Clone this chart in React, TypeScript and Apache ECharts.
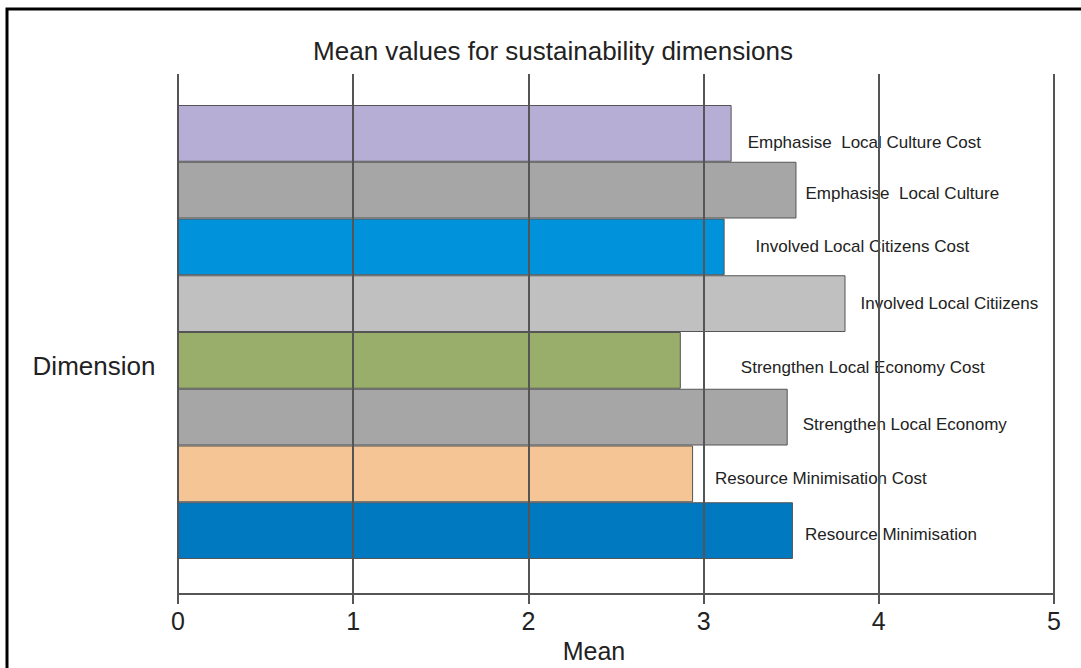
import React, { useEffect, useRef } from "react";
import * as echarts from "echarts";

const categories = [
  "Emphasise  Local Culture Cost",
  "Emphasise  Local Culture",
  "Involved Local Citizens Cost",
  "Involved Local Citiizens",
  "Strengthen Local Economy Cost",
  "Strengthen Local Economy",
  "Resource Minimisation Cost",
  "Resource Minimisation",
];
const means = [3.16, 3.53, 3.12, 3.81, 2.87, 3.48, 2.94, 3.51];
const xTicks = [0, 1, 2, 3, 4, 5];

// layout / style (not data)
const barColors = ["#B7AED5", "#A6A6A6", "#0093DB", "#C0C0C0", "#99AE6B", "#A6A6A6", "#F5C595", "#0079C1"];
const labelDistance = [16, 9, 31, 15, 60, 15, 22, 12];
const labelDy = [9, 3, 0, 0, 7, 7, 5, 4];

const FONT = "'Liberation Sans', Arial, Helvetica, sans-serif";

export default function App() {
  const ref = useRef<HTMLDivElement>(null);
  useEffect(() => {
    if (!ref.current) return;
    const chart = echarts.init(ref.current, undefined, { renderer: "svg" });
    const lineColor = "#555555";
    chart.setOption({
      animation: false,
      backgroundColor: "#ffffff",
      textStyle: { fontFamily: FONT },
      title: {
        text: "Mean values for sustainability dimensions",
        left: 548,
        top: 33,
        textAlign: "center",
        textStyle: { fontFamily: FONT, fontSize: 26, fontWeight: "normal", color: "#222" },
      },
      grid: [
        { left: 178, right: 27, top: 74, bottom: 72 },
        { left: 178, right: 27, top: 105, bottom: 109 },
      ],
      xAxis: [
        {
          gridIndex: 0,
          type: "value",
          min: xTicks[0],
          max: xTicks[xTicks.length - 1],
          interval: 1,
          z: 5,
          axisLine: { show: true, lineStyle: { color: lineColor, width: 2 } },
          axisTick: { show: true, length: 10, lineStyle: { color: lineColor, width: 2 } },
          splitLine: { show: true, lineStyle: { color: lineColor, width: 2 } },
          axisLabel: { fontFamily: FONT, fontSize: 25, color: "#222", margin: 14 },
          name: "Mean",
          nameLocation: "middle",
          nameGap: 43,
          nameTextStyle: { fontFamily: FONT, fontSize: 25, color: "#222", padding: [0, 44, 0, 0] },
        },
        { gridIndex: 1, type: "value", min: 0, max: 5, show: false },
      ],
      yAxis: [
        { gridIndex: 0, type: "value", min: 0, max: 1, show: false },
        {
          gridIndex: 1,
          type: "category",
          data: categories,
          inverse: true,
          show: false,
        },
      ],
      graphic: [
        {
          type: "rect",
          shape: { x: 7, y: 9, width: 1200, height: 800 },
          style: { fill: "none", stroke: "#000", lineWidth: 3 },
          z: 10,
        },
        {
          type: "text",
          x: 94,
          y: 366,
          style: {
            text: "Dimension",
            fontFamily: FONT,
            fontSize: 26,
            fill: "#222",
            textAlign: "center",
            textVerticalAlign: "middle",
          },
        },
      ],
      series: [
        {
          type: "bar",
          xAxisIndex: 1,
          yAxisIndex: 1,
          barCategoryGap: 0,
          z: 2,
          data: means.map((v, i) => ({
            value: v,
            itemStyle: { color: barColors[i], borderColor: lineColor, borderWidth: 1 },
            label: { distance: labelDistance[i], offset: [0, labelDy[i]] },
          })),
          label: {
            show: true,
            position: "right",
            formatter: "{b}",
            fontFamily: FONT,
            fontSize: 17,
            color: "#222",
          },
        },
      ],
    });
    return () => chart.dispose();
  }, []);
  return (
    <div
      ref={ref}
      style={{ position: "absolute", left: 0, top: 0, width: 1081, height: 668 }}
    />
  );
}
